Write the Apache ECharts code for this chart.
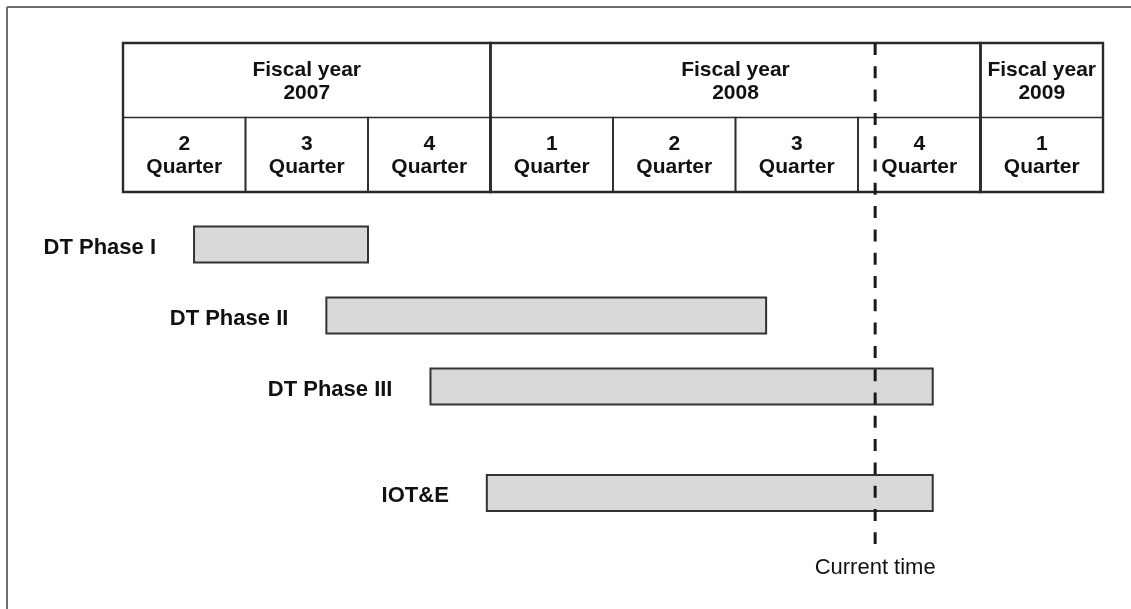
<!DOCTYPE html>
<html>
<head>
<meta charset="utf-8">
<title>DT / IOT&amp;E schedule</title>
<script src="https://cdn.jsdelivr.net/npm/echarts@6/dist/echarts.min.js"></script>
<style>
  html, body { margin: 0; padding: 0; background: #fff; }
  #chart { width: 1131px; height: 609px; }
</style>
</head>
<body>
<div id="chart"></div>
<script>
// x axis runs in quarters: 0 = start of FY2007 Q2, 8 = end of FY2009 Q1
var quarterNums = ['2', '3', '4', '1', '2', '3', '4', '1'];
var fiscalYears = ['2007', '2008', '2009'];
var yearStart = [0, 3, 7];
var yearEnd = [3, 7, 8];

var phases = ['DT Phase I', 'DT Phase II', 'DT Phase III', 'IOT&E'];
var phaseRow = [0, 1, 2, 3.5];
var phaseStart = [0.58, 1.66, 2.51, 2.97];
var phaseEnd = [2.0, 5.25, 6.61, 6.61];

var currentTime = 6.14;

var FONT = '"Liberation Sans", Arial, Helvetica, sans-serif';

// header cells: fiscal years on row 0, quarters on row 1
var cells = [];
fiscalYears.forEach(function (y, i) {
  cells.push({ value: [yearStart[i], yearEnd[i], 0], label: 'Fiscal year\n' + y });
});
quarterNums.forEach(function (q, i) {
  cells.push({ value: [i, i + 1, 1], label: q + '\nQuarter' });
});

function renderCell(params, api) {
  var row = api.value(2);
  var isYear = row === 0;
  var p0 = api.coord([api.value(0), row]);
  var p1 = api.coord([api.value(1), row + 1]);
  // year boxes are outlined over the full header height so their sides come out heavier
  var pb = isYear ? api.coord([api.value(1), 2]) : p1;
  return {
    type: 'group',
    children: [
      {
        type: 'rect',
        z2: isYear ? 2 : 1,
        shape: { x: p0[0], y: p0[1], width: pb[0] - p0[0], height: pb[1] - p0[1] },
        style: { fill: 'none', stroke: '#2a2a2a', lineWidth: isYear ? 2.4 : 1.6 }
      },
      {
        type: 'text',
        style: {
          text: cells[params.dataIndex].label,
          x: (p0[0] + p1[0]) / 2,
          y: (p0[1] + p1[1]) / 2 + 1,
          align: 'center',
          verticalAlign: 'middle',
          font: 'bold 21px ' + FONT,
          lineHeight: 23,
          fill: '#111'
        }
      }
    ]
  };
}

function renderPhase(params, api) {
  var s = api.coord([api.value(0), api.value(2)]);
  var e = api.coord([api.value(1), api.value(2)]);
  var h = api.size([0, 1])[1] * 0.51;
  return {
    type: 'group',
    children: [
      {
        type: 'rect',
        shape: { x: s[0], y: s[1] - h / 2, width: e[0] - s[0], height: h },
        style: { fill: '#d9d9d9', stroke: '#333', lineWidth: 2 }
      },
      {
        type: 'text',
        style: {
          text: phases[params.dataIndex],
          x: s[0] - 38,
          y: s[1] + 3,
          align: 'right',
          verticalAlign: 'middle',
          font: 'bold 22px ' + FONT,
          fill: '#111'
        }
      }
    ]
  };
}

function renderNow(params, api) {
  var top = api.coord([api.value(0), 0]);
  var bot = api.coord([api.value(0), 1]);
  return {
    type: 'group',
    children: [
      {
        type: 'line',
        shape: { x1: top[0], y1: top[1], x2: bot[0], y2: bot[1] },
        style: { stroke: '#1a1a1a', lineWidth: 3, lineDash: [12, 11.3] }
      },
      {
        type: 'text',
        style: {
          text: 'Current time',
          x: bot[0],
          y: bot[1] + 24,
          align: 'center',
          verticalAlign: 'middle',
          font: '22px ' + FONT,
          fill: '#111'
        }
      }
    ]
  };
}

var chart = echarts.init(document.getElementById('chart'));

var option = {
  backgroundColor: '#fff',
  animation: false,
  graphic: [
    { type: 'line', shape: { x1: 7, y1: 7, x2: 1131, y2: 7 }, style: { stroke: '#6e6e6e', lineWidth: 2 } },
    { type: 'line', shape: { x1: 7, y1: 7, x2: 7, y2: 609 }, style: { stroke: '#6e6e6e', lineWidth: 2 } }
  ],
  grid: [
    { left: 123, right: 28, top: 43, height: 149 },
    { left: 123, right: 28, top: 209, height: 355 },
    { left: 123, right: 28, top: 43, bottom: 65 }
  ],
  xAxis: [0, 1, 2].map(function (i) {
    return { type: 'value', gridIndex: i, min: 0, max: 8, show: false };
  }),
  yAxis: [
    { type: 'value', gridIndex: 0, min: 0, max: 2, inverse: true, show: false },
    { type: 'value', gridIndex: 1, min: -0.5, max: 4.5, inverse: true, show: false },
    { type: 'value', gridIndex: 2, min: 0, max: 1, inverse: true, show: false }
  ],
  series: [
    {
      type: 'custom',
      xAxisIndex: 0,
      yAxisIndex: 0,
      renderItem: renderCell,
      encode: { x: [0, 1], y: 2 },
      data: cells.map(function (c) { return c.value; }),
      z: 2
    },
    {
      type: 'custom',
      xAxisIndex: 1,
      yAxisIndex: 1,
      renderItem: renderPhase,
      encode: { x: [0, 1], y: 2 },
      data: phases.map(function (p, i) { return [phaseStart[i], phaseEnd[i], phaseRow[i]]; }),
      z: 2
    },
    {
      type: 'custom',
      xAxisIndex: 2,
      yAxisIndex: 2,
      renderItem: renderNow,
      encode: { x: 0 },
      data: [[currentTime]],
      z: 5
    }
  ]
};

chart.setOption(option);
</script>
</body>
</html>
